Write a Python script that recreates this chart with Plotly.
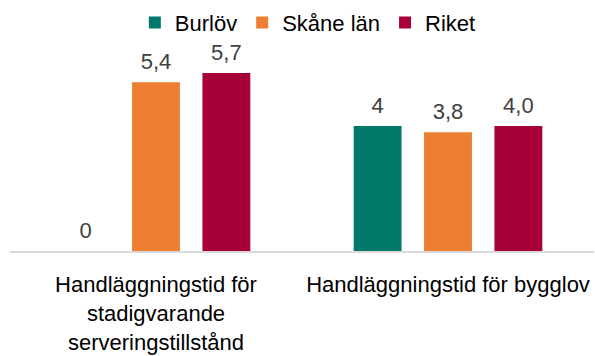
import plotly.graph_objects as go

categories = [
    "Handläggningstid för<br>stadigvarande<br>serveringstillstånd",
    "Handläggningstid för bygglov",
]
series_names = ["Burlöv", "Skåne län", "Riket"]
burlov = [0, 4]
skane = [5.4, 3.8]
riket = [5.7, 4.0]
burlov_text = ["0", "4"]
skane_text = ["5,4", "3,8"]
riket_text = ["5,7", "4,0"]
colors = ["#00786A", "#ED7D31", "#A8003A"]

FONT = "Liberation Sans, Arial, sans-serif"
GAP = 0.277

fig = go.Figure()
for name, vals, col in zip(series_names, [burlov, skane, riket], colors):
    fig.add_trace(
        go.Bar(
            name=name,
            x=categories,
            y=vals,
            marker=dict(color=col, line=dict(width=0)),
        )
    )

# value labels: grouped text traces sitting above each bar
for name, vals, txt in zip(
    series_names, [burlov, skane, riket], [burlov_text, skane_text, riket_text]
):
    fig.add_trace(
        go.Scatter(
            name=name,
            x=categories,
            y=vals,
            text=txt,
            mode="markers+text",
            marker=dict(size=11, opacity=0),
            textposition="top center",
            textfont=dict(family=FONT, size=22, color="#404040"),
            showlegend=False,
            hoverinfo="skip",
            cliponaxis=False,
        )
    )

fig.update_layout(
    width=595,
    height=356,
    margin=dict(l=10, r=1, t=48, b=103),
    paper_bgcolor="white",
    plot_bgcolor="white",
    barmode="group",
    bargap=GAP,
    bargroupgap=0.32,
    scattermode="group",
    scattergap=GAP,
    font=dict(family=FONT, size=22, color="#000000"),
    showlegend=True,
    legend=dict(
        orientation="h",
        x=0.51,
        xanchor="center",
        y=0.995,
        yref="container",
        yanchor="top",
        bgcolor="rgba(0,0,0,0)",
        font=dict(family=FONT, size=22, color="#000000"),
        itemwidth=30,
        traceorder="normal",
    ),
)
fig.update_xaxes(
    showline=True,
    linecolor="#D9D9D9",
    linewidth=2,
    ticks="",
    ticklabelstandoff=13,
    tickfont=dict(family=FONT, size=22, color="#000000"),
)
fig.update_yaxes(
    range=[0, 6.5],
    showgrid=False,
    showticklabels=False,
    zeroline=False,
    showline=False,
)

fig.write_html("out.html")
